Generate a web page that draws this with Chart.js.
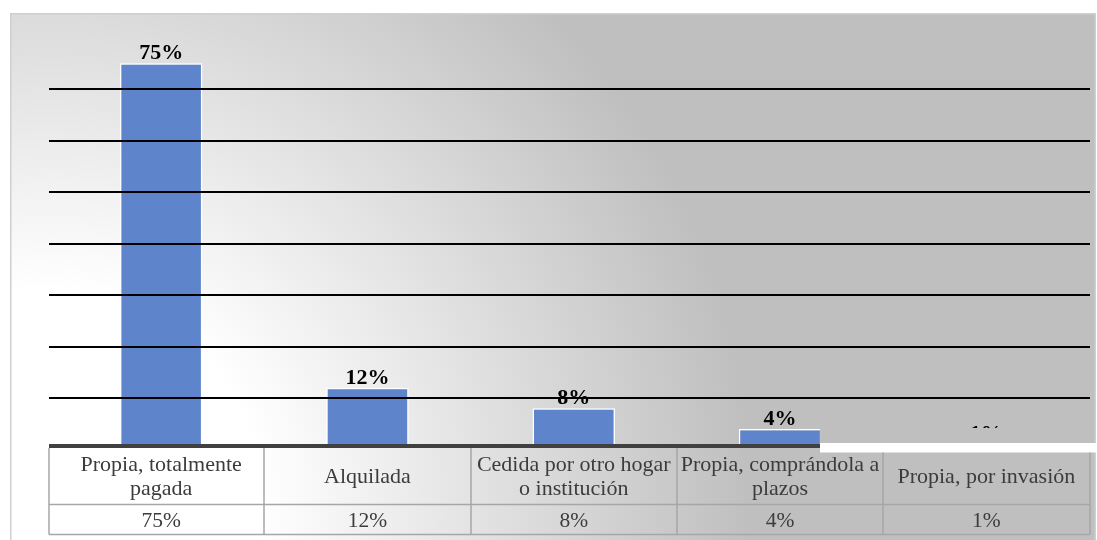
<!DOCTYPE html>
<html>
<head>
<meta charset="utf-8">
<script src="https://cdn.jsdelivr.net/npm/chart.js@4.4.1/dist/chart.umd.min.js"></script>
<style>
  html, body { margin: 0; padding: 0; background: #fff; overflow: hidden; }
  #wrap { width: 1097px; height: 540px; position: relative; }
</style>
</head>
<body>
<div id="wrap"><canvas id="c" width="1097" height="540"></canvas></div>
<script>
// Tenencia de la vivienda (% de hogares)
const categories = [
  ['Propia, totalmente', 'pagada'],
  ['Alquilada'],
  ['Cedida por otro hogar', 'o institución'],
  ['Propia, comprándola a', 'plazos'],
  ['Propia, por invasión']
];
const shares = [75, 12, 8, 4, 1];
const valueLabels = ['75%', '12%', '8%', '4%', '1%'];
const gridValues = [10, 20, 30, 40, 50, 60, 70];

const SERIF = '"Liberation Serif", "Times New Roman", serif';
const BOX = { left: 10, top: 13, right: 1096, bottom: 540 };
const GRID_X = [49, 1090];
const TABLE = { left: 49, top: 448, mid: 504.5, bottom: 534.5 };
const CAP_X = 820;   // where the header cap band stops

// panel with its soft corner-lit fill
const backdrop = {
  id: 'backdrop',
  beforeDraw(chart) {
    const ctx = chart.ctx;
    ctx.save();
    ctx.fillStyle = '#ffffff';
    ctx.fillRect(0, 0, chart.width, chart.height);
    const g = ctx.createRadialGradient(50, 500, 0, 50, 500, 700);
    g.addColorStop(0, '#ffffff');
    g.addColorStop(0.30, '#ffffff');
    g.addColorStop(1, '#bfbfbf');
    ctx.fillStyle = g;
    ctx.fillRect(BOX.left, BOX.top, BOX.right - BOX.left, BOX.bottom - BOX.top);
    ctx.strokeStyle = '#cfcfcf';
    ctx.lineWidth = 1.5;
    ctx.strokeRect(BOX.left + 0.75, BOX.top + 0.75, BOX.right - BOX.left - 1.5, BOX.bottom - BOX.top + 5);
    ctx.restore();
    chart.$panelFill = g;
  }
};

// horizontal rules drawn on top of the bars
const rules = {
  id: 'rules',
  afterDatasetsDraw(chart) {
    const ctx = chart.ctx, y = chart.scales.y;
    ctx.save();
    ctx.strokeStyle = '#000000';
    ctx.lineWidth = 2;
    gridValues.forEach(v => {
      const py = Math.round(y.getPixelForValue(v));
      ctx.beginPath();
      ctx.moveTo(GRID_X[0], py);
      ctx.lineTo(GRID_X[1], py);
      ctx.stroke();
    });
    ctx.restore();
  }
};

// value labels above each bar
const barLabels = {
  id: 'barLabels',
  afterDatasetsDraw(chart) {
    const ctx = chart.ctx;
    const meta = chart.getDatasetMeta(0);
    ctx.save();
    ctx.font = 'bold 22px ' + SERIF;
    ctx.fillStyle = '#000000';
    ctx.textAlign = 'center';
    ctx.textBaseline = 'alphabetic';
    meta.data.forEach((bar, i) => {
      ctx.fillText(valueLabels[i], bar.x, bar.y - 4);
    });
    ctx.restore();
  }
};

// data table under the plot
const dataTable = {
  id: 'dataTable',
  afterDraw(chart) {
    const ctx = chart.ctx, x = chart.scales.x;
    const n = categories.length;
    const step = (x.right - x.left) / n;
    ctx.save();

    // header cap band
    ctx.fillStyle = chart.$panelFill;
    ctx.fillRect(CAP_X, 428, GRID_X[1] - CAP_X, 15);
    ctx.fillStyle = '#404040';
    ctx.fillRect(TABLE.left, 444, CAP_X - TABLE.left, 4);
    ctx.fillStyle = '#ffffff';
    ctx.fillRect(CAP_X, 443, BOX.right - CAP_X + 2, 9.5);

    // cell borders
    ctx.strokeStyle = '#a6a6a6';
    ctx.lineWidth = 1.5;
    ctx.beginPath();
    ctx.moveTo(TABLE.left, TABLE.mid); ctx.lineTo(x.right, TABLE.mid);
    ctx.moveTo(TABLE.left, TABLE.bottom); ctx.lineTo(x.right, TABLE.bottom);
    ctx.moveTo(TABLE.left, TABLE.top); ctx.lineTo(TABLE.left, TABLE.bottom);
    for (let i = 1; i <= n; i++) {
      const bx = Math.round(x.left + step * i);
      const top = bx > CAP_X ? 452.5 : TABLE.top;
      ctx.moveTo(bx, top); ctx.lineTo(bx, TABLE.bottom);
    }
    ctx.stroke();

    // cell text
    ctx.fillStyle = '#3c3c3c';
    ctx.textAlign = 'center';
    ctx.textBaseline = 'alphabetic';
    const headMid = (TABLE.top + TABLE.mid) / 2;
    const valMid = (TABLE.mid + TABLE.bottom) / 2;
    categories.forEach((lines, i) => {
      const cx = x.getPixelForValue(i);
      const first = headMid + 7 - (lines.length - 1) * 12;
      ctx.font = '22px ' + SERIF;
      lines.forEach((t, k) => ctx.fillText(t, cx, first + k * 24));
      ctx.font = '21.5px ' + SERIF;
      ctx.fillText(valueLabels[i], cx, valMid + 7);
    });
    ctx.restore();
  }
};

new Chart(document.getElementById('c'), {
  type: 'bar',
  data: {
    labels: categories,
    datasets: [{
      data: shares,
      backgroundColor: '#5e85cb',
      borderColor: '#ffffff',
      borderWidth: 1.5,
      borderSkipped: 'bottom',
      categoryPercentage: 1.0,
      barPercentage: 0.4,
      clip: { left: 0, top: 0, right: 0, bottom: -2 }
    }]
  },
  options: {
    responsive: false,
    animation: false,
    events: [],
    layout: { padding: { left: 58, right: 7.5, top: 37.5, bottom: 90.5 } },
    plugins: { legend: { display: false }, tooltip: { enabled: false } },
    scales: {
      x: { display: false, offset: true },
      y: { display: false, min: 0, max: 80 }
    }
  },
  plugins: [backdrop, rules, barLabels, dataTable]
});
</script>
</body>
</html>
